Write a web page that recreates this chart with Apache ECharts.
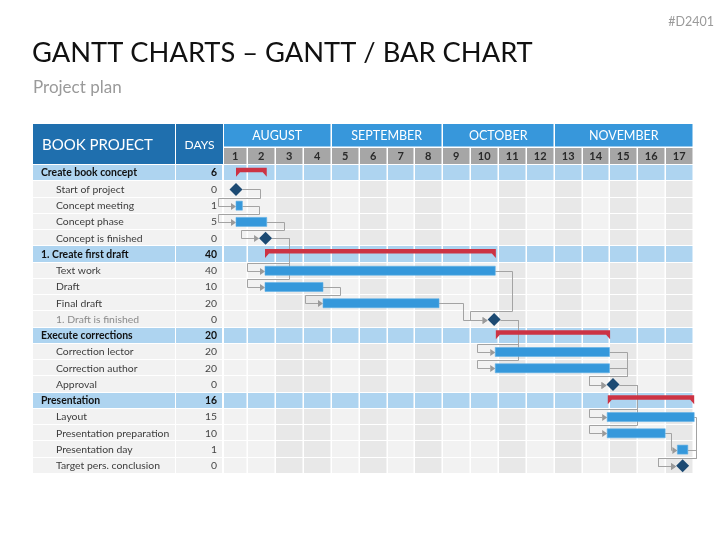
<!DOCTYPE html>
<html><head><meta charset="utf-8">
<script src="https://cdn.jsdelivr.net/npm/echarts@6/dist/echarts.min.js"></script>
<style>html,body{margin:0;padding:0;background:#fff}#c{width:727px;height:545px}</style>
</head><body><div id="c"></div><script>
const FONT = 'Lato, "Open Sans", sans-serif';

// ---- data ----
const taskNames = ['Create book concept','Start of project','Concept meeting','Concept phase','Concept is finished',
  '1. Create first draft','Text work','Draft','Final draft','1. Draft is finished',
  'Execute corrections','Correction lector','Correction author','Approval',
  'Presentation','Layout','Presentation preparation','Presentation day','Target pers. conclusion'];
const taskKinds = ['group','milestone','task','task','milestone',
  'group','task','task','task','milestone',
  'group','task','task','milestone',
  'group','task','task','task','milestone'];
const taskDays  = [6,0,1,5,0, 40,40,10,20,0, 20,20,20,0, 16,15,10,1,0];
const taskStart = [0,0,0,0,5.1, 5,5,5,15,44.5, 44.8,44.7,44.7,65, 64.1,64,64,76.1,77];
const taskEnd   = [5.3,0,1.1,5.3,5.1, 44.8,44.7,15,35,44.5, 64.5,64.4,64.4,65, 79,79,74,77.9,77];
const links = [[1,2],[2,3],[3,4],[4,6],[4,7],[7,8],[6,9],[8,9],[9,11],[9,12],[11,13],[12,13],[13,15],[13,16],[16,17],[15,18],[17,18]];
const dayLabels = ['1','2','3','4','5','6','7','8','9','10','11','12','13','14','15','16','17'];
const months = ['AUGUST','SEPTEMBER','OCTOBER','NOVEMBER'];
const monthSpans = [4,4,4,5];
const darkCols = [3,4,6,8,11,13,15,17];

// ---- style constants ----
const DH = 6.5; // diamond half size
const C_GROUPROW = '#aed4f0', C_ROW = '#f2f2f2', C_ROWDARK = '#e8e8e8';
const C_HEAD = '#1f6fae', C_MONTH = '#3797db', C_DAYHEAD = '#a6a6a6';
const C_BAR = '#3598db', C_SUM = '#cc3344', C_MS = '#1c4a73', C_LINK = '#a3a3a3';
const LEFT_CLIP = 224;
const cr = v => Math.round(v) + 0.5;

function txt(text, x, y, o) {
  return Object.assign({type:'text', style:Object.assign({text, x, y, fontFamily:FONT, fontSize:10.4,
    fill:'#333', align:'left', textAlign:'left', verticalAlign:'middle', textVerticalAlign:'middle'}, o||{})});
}

function renderRow(params, api) {
  const r = api.value(1);
  const yc = api.coord([0, r])[1];
  const h = api.size([0, 1])[1];
  const top = Math.round(yc - h/2), bot = Math.round(yc + h/2);
  const isGroup = taskKinds[r] === 'group';
  const ch = [];
  const fill = isGroup ? C_GROUPROW : C_ROW;
  ch.push({type:'rect', shape:{x:33, y:top, width:142, height:bot-top-1}, style:{fill}});
  ch.push({type:'rect', shape:{x:176, y:top, width:46, height:bot-top-1}, style:{fill}});
  const gray = r === 9;
  ch.push(txt(taskNames[r], isGroup ? 41 : 56, yc, {fontWeight: isGroup ? 'bold' : 'normal',
    fill: isGroup ? '#111' : (gray ? '#8a8a8a' : '#3c3c3c')}));
  ch.push(txt(String(taskDays[r]), 217, yc, {align:'right', textAlign:'right', fontWeight: isGroup ? 'bold' : 'normal',
    fill: isGroup ? '#111' : '#444'}));
  for (let c = 0; c < dayLabels.length; c++) {
    let x0 = api.coord([c, r])[0], x1 = api.coord([c + 1, r])[0];
    x0 = Math.max(Math.round(x0), LEFT_CLIP); x1 = Math.round(x1) - 1.5;
    const cf = isGroup ? C_GROUPROW : (darkCols.indexOf(c + 1) >= 0 ? C_ROWDARK : C_ROW);
    ch.push({type:'rect', shape:{x:x0, y:top, width:x1 - x0, height:bot-top-1}, style:{fill:cf}});
  }
  return {type:'group', children:ch};
}

function renderDayHead(params, api) {
  const c = api.value(0);
  const cs = params.coordSys;
  let x0 = Math.max(Math.round(api.coord([c, 0])[0]), LEFT_CLIP);
  let x1 = Math.round(api.coord([c + 1, 0])[0]) - 1.5;
  const y = cs.y - 17;
  return {type:'group', children:[
    {type:'rect', shape:{x:x0, y, width:x1-x0, height:16}, style:{fill:C_DAYHEAD}},
    txt(dayLabels[c], (x0+x1)/2, y + 8.5, {align:'center', textAlign:'center', fontWeight:'bold', fontSize:11, fill:'#2a2a2a'})
  ]};
}

function renderMonth(params, api) {
  const m = api.value(0);
  const cs = params.coordSys;
  let startCol = 0; for (let i = 0; i < m; i++) startCol += monthSpans[i];
  let x0 = Math.max(Math.round(api.coord([startCol, 0])[0]), LEFT_CLIP);
  let x1 = Math.round(api.coord([startCol + monthSpans[m], 0])[0]) - 1.5;
  const y = cs.y - 41;
  return {type:'group', children:[
    {type:'rect', shape:{x:x0, y, width:x1-x0, height:22.5}, style:{fill:C_MONTH}},
    txt(months[m], (x0+x1)/2, y + 11.5, {align:'center', textAlign:'center', fontSize:12.5, fill:'#fff'})
  ]};
}

function renderBar(params, api) {
  const s = api.value(0), r = api.value(1), e = api.value(2);
  const kind = taskKinds[r];
  const yc = api.coord([0, r])[1];
  const x0 = api.coord([s, r])[0], x1 = api.coord([e, r])[0];
  if (kind === 'group') {
    const top = yc - 5.5, bb = yc - 1, tb = yc + 3.5;
    return {type:'polygon', shape:{points:[[x0,top],[x1,top],[x1,tb],[x1-4,bb],[x0+4,bb],[x0,tb]]}, style:{fill:C_SUM}};
  }
  if (kind === 'milestone') {
    return {type:'polygon', shape:{points:[[x0-DH,yc],[x0,yc-DH],[x0+DH,yc],[x0,yc+DH]]}, style:{fill:C_MS}};
  }
  return {type:'rect', shape:{x:x0, y:yc-4.5, width:Math.max(x1-x0,2), height:9}, style:{fill:C_BAR, stroke:'#5fb0e6', lineWidth:0.6}};
}

function renderLink(params, api) {
  const p = api.value(0), s = api.value(1);
  const h = api.size([0, 1])[1];
  const cs = params.coordSys;
  const yP = cr(api.coord([0, p])[1]), yS = cr(api.coord([0, s])[1]);
  let xe = api.coord([taskEnd[p], p])[0]; if (taskKinds[p] === 'milestone') xe += DH;
  let xs = api.coord([taskStart[s], s])[0]; if (taskKinds[s] === 'milestone') xs -= DH;
  const tb = xs - 5;
  let pts;
  if (xs - xe >= 8) {
    const m = cr((xe + xs) / 2);
    pts = [[xe,yP],[m,yP],[m,yS],[tb,yS]];
  } else {
    const ex = cr(Math.min(xe + 17, cs.x + cs.width + 2));
    const yd = cr(api.coord([0, s])[1] - h/2);
    const xl = cr(xs - 18);
    pts = [[xe,yP],[ex,yP],[ex,yd],[xl,yd],[xl,yS],[tb,yS]];
  }
  return {type:'group', children:[
    {type:'polyline', shape:{points:pts}, style:{stroke:C_LINK, lineWidth:1, fill:null}},
    {type:'polygon', shape:{points:[[tb,yS-3.5],[xs,yS],[tb,yS+3.5]]}, style:{fill:'#9a9a9a'}}
  ]};
}

const chart = echarts.init(document.getElementById('c'), null, {renderer:'canvas'});
const GRID_L = 220.5, GRID_R = 694, DAY0 = 236, PX_DAY = 5.8;
chart.setOption({
  animation:false,
  backgroundColor:'#fff',
  grid:{left:GRID_L, right:727-GRID_R, top:165, bottom:545-474, containLabel:false},
  xAxis:[
    {type:'value', min:0, max:dayLabels.length, show:false},
    {type:'value', min:(GRID_L-DAY0)/PX_DAY, max:(GRID_R-DAY0)/PX_DAY, show:false}
  ],
  yAxis:{type:'category', inverse:true, data:taskNames, show:false},
  graphic:[
    {type:'text', style:{text:'#D2401', x:714, y:22, fontFamily:FONT, fontSize:12.5, fill:'#9a9a9a', align:'right', textAlign:'right', verticalAlign:'middle', textVerticalAlign:'middle'}},
    {type:'text', style:{text:'GANTT CHARTS \u2013 GANTT / BAR CHART', x:32, y:53, fontFamily:FONT, fontSize:27.3, fill:'#111', verticalAlign:'middle', textVerticalAlign:'middle'}},
    {type:'text', style:{text:'Project plan', x:33, y:88, fontFamily:FONT, fontSize:17, fill:'#9a9a9a', verticalAlign:'middle', textVerticalAlign:'middle'}},
    {type:'rect', shape:{x:33, y:124, width:142, height:40}, style:{fill:C_HEAD}},
    {type:'rect', shape:{x:176, y:124, width:47, height:40}, style:{fill:C_HEAD}},
    {type:'text', style:{text:'BOOK PROJECT', x:42, y:145, fontFamily:FONT, fontSize:15, fill:'#fff', verticalAlign:'middle', textVerticalAlign:'middle'}},
    {type:'text', style:{text:'DAYS', x:199.5, y:145, fontFamily:FONT, fontSize:12, fill:'#fff', align:'center', textAlign:'center', verticalAlign:'middle', textVerticalAlign:'middle'}}
  ],
  series:[
    {type:'custom', name:'rows', xAxisIndex:0, renderItem:renderRow, clip:false, silent:true,
      data:taskNames.map((n, i) => [0, i]), z:1},
    {type:'custom', name:'dayHead', xAxisIndex:0, renderItem:renderDayHead, clip:false, silent:true,
      data:dayLabels.map((d, i) => [i, 0]), z:1},
    {type:'custom', name:'months', xAxisIndex:0, renderItem:renderMonth, clip:false, silent:true,
      data:months.map((m, i) => [i, 0]), z:1},
    {type:'custom', name:'links', xAxisIndex:1, renderItem:renderLink, clip:false, silent:true,
      data:links.map(l => [l[0], l[1]]), z:2},
    {type:'custom', name:'bars', xAxisIndex:1, renderItem:renderBar, clip:false, silent:true,
      data:taskNames.map((n, i) => [taskStart[i], i, taskEnd[i]]), z:3}
  ]
});
</script></body></html>
